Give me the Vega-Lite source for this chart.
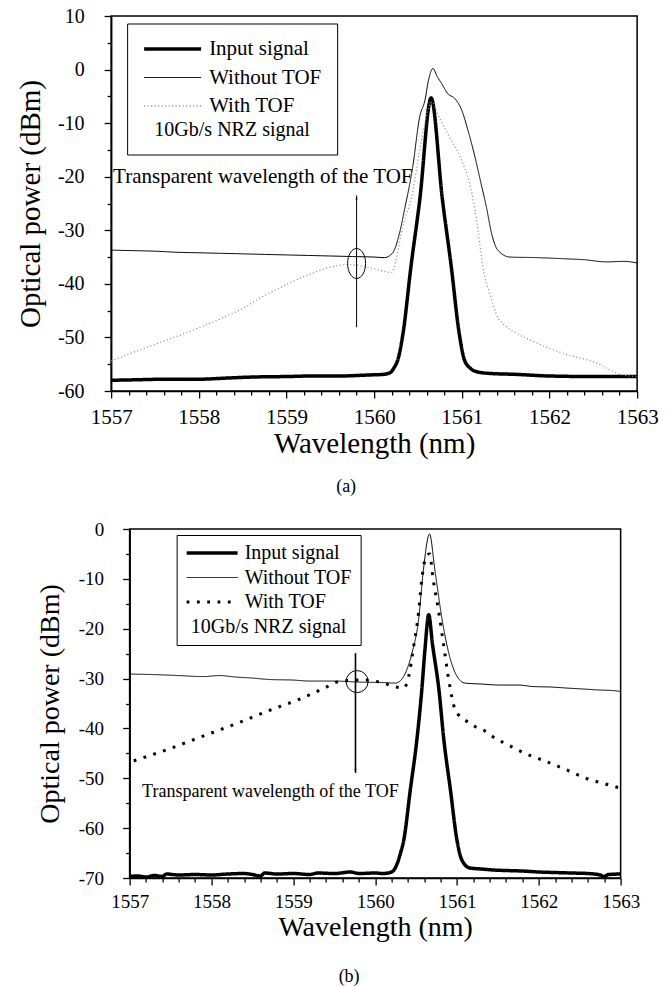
{
  "$schema": "https://vega.github.io/schema/vega-lite/v6.json",
  "background": "white",
  "padding": {"left": 15, "top": 5, "right": 5, "bottom": 0},
  "center": true,
  "spacing": 22,
  "resolve": {
    "scale": {"color": "independent", "strokeWidth": "independent", "strokeDash": "independent", "x": "independent", "y": "independent"},
    "legend": {"color": "independent", "strokeWidth": "independent", "strokeDash": "independent"}
  },
  "config": {
    "font": "Liberation Serif",
    "view": {"stroke": "black", "strokeWidth": 1.5},
    "axis": {
      "labelFont": "Liberation Serif", "titleFont": "Liberation Serif", "titleFontWeight": "normal",
      "labelColor": "black", "titleColor": "black", "domainColor": "black", "domainWidth": 1.6,
      "tickColor": "black", "tickWidth": 1.3, "grid": false, "labelOverlap": false, "labelFlush": false
    },
    "title": {"font": "Liberation Serif", "fontWeight": "normal", "color": "black"}
  },
  "datasets": {
    "a_curves": [
      {"s": "Input signal", "wl": 1557.0, "p": -58.0},
      {"s": "Input signal", "wl": 1557.3, "p": -57.9},
      {"s": "Input signal", "wl": 1557.6, "p": -57.8},
      {"s": "Input signal", "wl": 1558.0, "p": -57.8},
      {"s": "Input signal", "wl": 1558.3, "p": -57.6},
      {"s": "Input signal", "wl": 1558.6, "p": -57.4},
      {"s": "Input signal", "wl": 1559.0, "p": -57.3},
      {"s": "Input signal", "wl": 1559.3, "p": -57.2},
      {"s": "Input signal", "wl": 1559.6, "p": -57.2},
      {"s": "Input signal", "wl": 1559.95, "p": -57.0},
      {"s": "Input signal", "wl": 1560.1, "p": -56.9},
      {"s": "Input signal", "wl": 1560.18, "p": -56.6},
      {"s": "Input signal", "wl": 1560.23, "p": -55.6},
      {"s": "Input signal", "wl": 1560.27, "p": -54.2},
      {"s": "Input signal", "wl": 1560.33, "p": -49.2},
      {"s": "Input signal", "wl": 1560.42, "p": -36.8},
      {"s": "Input signal", "wl": 1560.52, "p": -24.4},
      {"s": "Input signal", "wl": 1560.65, "p": -5.3},
      {"s": "Input signal", "wl": 1560.78, "p": -24.4},
      {"s": "Input signal", "wl": 1560.88, "p": -36.8},
      {"s": "Input signal", "wl": 1560.97, "p": -49.2},
      {"s": "Input signal", "wl": 1561.03, "p": -54.2},
      {"s": "Input signal", "wl": 1561.1, "p": -55.8},
      {"s": "Input signal", "wl": 1561.17, "p": -56.4},
      {"s": "Input signal", "wl": 1561.3, "p": -56.7},
      {"s": "Input signal", "wl": 1561.62, "p": -56.9},
      {"s": "Input signal", "wl": 1562.0, "p": -57.2},
      {"s": "Input signal", "wl": 1562.5, "p": -57.3},
      {"s": "Input signal", "wl": 1563.0, "p": -57.3},

      {"s": "Without TOF", "wl": 1557.0, "p": -33.7},
      {"s": "Without TOF", "wl": 1557.25, "p": -33.8},
      {"s": "Without TOF", "wl": 1557.5, "p": -33.9},
      {"s": "Without TOF", "wl": 1557.75, "p": -34.1},
      {"s": "Without TOF", "wl": 1558.0, "p": -34.2},
      {"s": "Without TOF", "wl": 1558.25, "p": -34.3},
      {"s": "Without TOF", "wl": 1558.5, "p": -34.4},
      {"s": "Without TOF", "wl": 1558.75, "p": -34.5},
      {"s": "Without TOF", "wl": 1559.0, "p": -34.6},
      {"s": "Without TOF", "wl": 1559.25, "p": -34.7},
      {"s": "Without TOF", "wl": 1559.5, "p": -34.8},
      {"s": "Without TOF", "wl": 1559.75, "p": -34.9},
      {"s": "Without TOF", "wl": 1560.0, "p": -35.0},
      {"s": "Without TOF", "wl": 1560.12, "p": -35.1},
      {"s": "Without TOF", "wl": 1560.18, "p": -34.7},
      {"s": "Without TOF", "wl": 1560.23, "p": -33.7},
      {"s": "Without TOF", "wl": 1560.29, "p": -30.5},
      {"s": "Without TOF", "wl": 1560.35, "p": -25.9},
      {"s": "Without TOF", "wl": 1560.44, "p": -18.2},
      {"s": "Without TOF", "wl": 1560.52, "p": -8.8},
      {"s": "Without TOF", "wl": 1560.58, "p": -5.7},
      {"s": "Without TOF", "wl": 1560.62, "p": -2.0},
      {"s": "Without TOF", "wl": 1560.67, "p": 0.2},
      {"s": "Without TOF", "wl": 1560.72, "p": -1.3},
      {"s": "Without TOF", "wl": 1560.77, "p": -2.6},
      {"s": "Without TOF", "wl": 1560.84, "p": -4.5},
      {"s": "Without TOF", "wl": 1560.92, "p": -5.4},
      {"s": "Without TOF", "wl": 1561.0, "p": -7.6},
      {"s": "Without TOF", "wl": 1561.07, "p": -11.3},
      {"s": "Without TOF", "wl": 1561.15, "p": -16.3},
      {"s": "Without TOF", "wl": 1561.22, "p": -21.3},
      {"s": "Without TOF", "wl": 1561.28, "p": -25.6},
      {"s": "Without TOF", "wl": 1561.34, "p": -30.6},
      {"s": "Without TOF", "wl": 1561.41, "p": -33.7},
      {"s": "Without TOF", "wl": 1561.55, "p": -35.0},
      {"s": "Without TOF", "wl": 1561.85, "p": -35.1},
      {"s": "Without TOF", "wl": 1562.15, "p": -35.3},
      {"s": "Without TOF", "wl": 1562.4, "p": -35.5},
      {"s": "Without TOF", "wl": 1562.65, "p": -35.9},
      {"s": "Without TOF", "wl": 1562.85, "p": -35.8},
      {"s": "Without TOF", "wl": 1563.0, "p": -36.1},

      {"s": "With TOF", "wl": 1557.0, "p": -54.4},
      {"s": "With TOF", "wl": 1557.25, "p": -52.8},
      {"s": "With TOF", "wl": 1557.5, "p": -51.3},
      {"s": "With TOF", "wl": 1557.75, "p": -49.8},
      {"s": "With TOF", "wl": 1558.0, "p": -48.2},
      {"s": "With TOF", "wl": 1558.25, "p": -46.5},
      {"s": "With TOF", "wl": 1558.5, "p": -44.6},
      {"s": "With TOF", "wl": 1558.75, "p": -42.2},
      {"s": "With TOF", "wl": 1559.0, "p": -40.1},
      {"s": "With TOF", "wl": 1559.25, "p": -38.3},
      {"s": "With TOF", "wl": 1559.5, "p": -36.9},
      {"s": "With TOF", "wl": 1559.7, "p": -36.4},
      {"s": "With TOF", "wl": 1559.9, "p": -36.8},
      {"s": "With TOF", "wl": 1560.0, "p": -37.2},
      {"s": "With TOF", "wl": 1560.1, "p": -37.6},
      {"s": "With TOF", "wl": 1560.2, "p": -37.9},
      {"s": "With TOF", "wl": 1560.25, "p": -35.6},
      {"s": "With TOF", "wl": 1560.31, "p": -30.6},
      {"s": "With TOF", "wl": 1560.37, "p": -26.9},
      {"s": "With TOF", "wl": 1560.42, "p": -24.4},
      {"s": "With TOF", "wl": 1560.52, "p": -15.1},
      {"s": "With TOF", "wl": 1560.6, "p": -8.5},
      {"s": "With TOF", "wl": 1560.66, "p": -6.0},
      {"s": "With TOF", "wl": 1560.73, "p": -8.5},
      {"s": "With TOF", "wl": 1560.86, "p": -12.6},
      {"s": "With TOF", "wl": 1560.98, "p": -16.3},
      {"s": "With TOF", "wl": 1561.09, "p": -21.3},
      {"s": "With TOF", "wl": 1561.15, "p": -26.2},
      {"s": "With TOF", "wl": 1561.19, "p": -30.6},
      {"s": "With TOF", "wl": 1561.24, "p": -36.8},
      {"s": "With TOF", "wl": 1561.32, "p": -41.8},
      {"s": "With TOF", "wl": 1561.39, "p": -45.5},
      {"s": "With TOF", "wl": 1561.51, "p": -48.0},
      {"s": "With TOF", "wl": 1561.62, "p": -49.2},
      {"s": "With TOF", "wl": 1561.78, "p": -50.5},
      {"s": "With TOF", "wl": 1562.16, "p": -53.0},
      {"s": "With TOF", "wl": 1562.54, "p": -54.8},
      {"s": "With TOF", "wl": 1562.73, "p": -56.4},
      {"s": "With TOF", "wl": 1562.84, "p": -57.0},
      {"s": "With TOF", "wl": 1563.0, "p": -57.3}
    ],
    "b_curves": [
      {"s": "Input signal", "wl": 1557.0, "p": -69.7},
      {"s": "Input signal", "wl": 1557.1, "p": -69.6},
      {"s": "Input signal", "wl": 1557.2, "p": -69.8},
      {"s": "Input signal", "wl": 1557.3, "p": -69.5},
      {"s": "Input signal", "wl": 1557.4, "p": -69.7},
      {"s": "Input signal", "wl": 1557.45, "p": -69.2},
      {"s": "Input signal", "wl": 1557.6, "p": -69.4},
      {"s": "Input signal", "wl": 1557.8, "p": -69.3},
      {"s": "Input signal", "wl": 1558.0, "p": -69.4},
      {"s": "Input signal", "wl": 1558.2, "p": -69.2},
      {"s": "Input signal", "wl": 1558.4, "p": -69.1},
      {"s": "Input signal", "wl": 1558.5, "p": -69.3},
      {"s": "Input signal", "wl": 1558.6, "p": -69.6},
      {"s": "Input signal", "wl": 1558.65, "p": -69.0},
      {"s": "Input signal", "wl": 1558.8, "p": -69.2},
      {"s": "Input signal", "wl": 1559.0, "p": -69.1},
      {"s": "Input signal", "wl": 1559.2, "p": -69.3},
      {"s": "Input signal", "wl": 1559.3, "p": -69.0},
      {"s": "Input signal", "wl": 1559.5, "p": -69.1},
      {"s": "Input signal", "wl": 1559.7, "p": -68.8},
      {"s": "Input signal", "wl": 1559.8, "p": -69.1},
      {"s": "Input signal", "wl": 1560.0, "p": -69.0},
      {"s": "Input signal", "wl": 1560.1, "p": -69.1},
      {"s": "Input signal", "wl": 1560.2, "p": -68.8},
      {"s": "Input signal", "wl": 1560.27, "p": -67.1},
      {"s": "Input signal", "wl": 1560.31, "p": -65.0},
      {"s": "Input signal", "wl": 1560.35, "p": -62.4},
      {"s": "Input signal", "wl": 1560.43, "p": -52.3},
      {"s": "Input signal", "wl": 1560.51, "p": -42.3},
      {"s": "Input signal", "wl": 1560.57, "p": -32.3},
      {"s": "Input signal", "wl": 1560.61, "p": -24.0},
      {"s": "Input signal", "wl": 1560.655, "p": -17.2},
      {"s": "Input signal", "wl": 1560.7, "p": -23.0},
      {"s": "Input signal", "wl": 1560.78, "p": -32.3},
      {"s": "Input signal", "wl": 1560.84, "p": -42.3},
      {"s": "Input signal", "wl": 1560.92, "p": -52.3},
      {"s": "Input signal", "wl": 1561.0, "p": -62.4},
      {"s": "Input signal", "wl": 1561.06, "p": -66.4},
      {"s": "Input signal", "wl": 1561.16, "p": -68.0},
      {"s": "Input signal", "wl": 1561.3, "p": -68.2},
      {"s": "Input signal", "wl": 1561.45, "p": -68.4},
      {"s": "Input signal", "wl": 1561.6, "p": -68.5},
      {"s": "Input signal", "wl": 1561.8, "p": -68.6},
      {"s": "Input signal", "wl": 1562.0, "p": -68.8},
      {"s": "Input signal", "wl": 1562.2, "p": -68.9},
      {"s": "Input signal", "wl": 1562.4, "p": -69.0},
      {"s": "Input signal", "wl": 1562.6, "p": -69.1},
      {"s": "Input signal", "wl": 1562.75, "p": -69.4},
      {"s": "Input signal", "wl": 1562.8, "p": -69.7},
      {"s": "Input signal", "wl": 1562.85, "p": -69.3},
      {"s": "Input signal", "wl": 1563.0, "p": -69.2},

      {"s": "Without TOF", "wl": 1557.0, "p": -29.1},
      {"s": "Without TOF", "wl": 1557.3, "p": -29.2},
      {"s": "Without TOF", "wl": 1557.6, "p": -29.4},
      {"s": "Without TOF", "wl": 1557.9, "p": -29.6},
      {"s": "Without TOF", "wl": 1558.1, "p": -29.4},
      {"s": "Without TOF", "wl": 1558.3, "p": -29.7},
      {"s": "Without TOF", "wl": 1558.5, "p": -29.9},
      {"s": "Without TOF", "wl": 1558.72, "p": -30.2},
      {"s": "Without TOF", "wl": 1559.0, "p": -30.3},
      {"s": "Without TOF", "wl": 1559.2, "p": -30.5},
      {"s": "Without TOF", "wl": 1559.5, "p": -30.5},
      {"s": "Without TOF", "wl": 1559.8, "p": -30.7},
      {"s": "Without TOF", "wl": 1560.1, "p": -30.8},
      {"s": "Without TOF", "wl": 1560.25, "p": -30.9},
      {"s": "Without TOF", "wl": 1560.31, "p": -30.4},
      {"s": "Without TOF", "wl": 1560.37, "p": -28.9},
      {"s": "Without TOF", "wl": 1560.45, "p": -24.9},
      {"s": "Without TOF", "wl": 1560.53, "p": -18.3},
      {"s": "Without TOF", "wl": 1560.59, "p": -8.2},
      {"s": "Without TOF", "wl": 1560.665, "p": -1.0},
      {"s": "Without TOF", "wl": 1560.73, "p": -8.2},
      {"s": "Without TOF", "wl": 1560.82, "p": -18.3},
      {"s": "Without TOF", "wl": 1560.9, "p": -24.9},
      {"s": "Without TOF", "wl": 1560.98, "p": -28.9},
      {"s": "Without TOF", "wl": 1561.04, "p": -30.4},
      {"s": "Without TOF", "wl": 1561.1, "p": -30.9},
      {"s": "Without TOF", "wl": 1561.3, "p": -31.1},
      {"s": "Without TOF", "wl": 1561.53, "p": -31.3},
      {"s": "Without TOF", "wl": 1561.75, "p": -31.3},
      {"s": "Without TOF", "wl": 1561.93, "p": -31.6},
      {"s": "Without TOF", "wl": 1562.15, "p": -31.7},
      {"s": "Without TOF", "wl": 1562.34, "p": -31.9},
      {"s": "Without TOF", "wl": 1562.55, "p": -32.1},
      {"s": "Without TOF", "wl": 1562.75, "p": -32.3},
      {"s": "Without TOF", "wl": 1562.9, "p": -32.4},
      {"s": "Without TOF", "wl": 1563.0, "p": -32.6},

      {"s": "With TOF", "wl": 1557.05, "p": -46.5},
      {"s": "With TOF", "wl": 1557.5, "p": -44.0},
      {"s": "With TOF", "wl": 1557.87, "p": -41.7},
      {"s": "With TOF", "wl": 1558.31, "p": -39.0},
      {"s": "With TOF", "wl": 1558.72, "p": -36.3},
      {"s": "With TOF", "wl": 1559.05, "p": -34.3},
      {"s": "With TOF", "wl": 1559.37, "p": -32.0},
      {"s": "With TOF", "wl": 1559.58, "p": -30.5},
      {"s": "With TOF", "wl": 1559.86, "p": -30.3},
      {"s": "With TOF", "wl": 1560.1, "p": -30.9},
      {"s": "With TOF", "wl": 1560.23, "p": -31.6},
      {"s": "With TOF", "wl": 1560.35, "p": -31.9},
      {"s": "With TOF", "wl": 1560.41, "p": -29.6},
      {"s": "With TOF", "wl": 1560.47, "p": -23.6},
      {"s": "With TOF", "wl": 1560.53, "p": -16.9},
      {"s": "With TOF", "wl": 1560.57, "p": -10.2},
      {"s": "With TOF", "wl": 1560.61, "p": -6.2},
      {"s": "With TOF", "wl": 1560.665, "p": -5.0},
      {"s": "With TOF", "wl": 1560.71, "p": -10.2},
      {"s": "With TOF", "wl": 1560.78, "p": -16.9},
      {"s": "With TOF", "wl": 1560.84, "p": -23.6},
      {"s": "With TOF", "wl": 1560.9, "p": -30.3},
      {"s": "With TOF", "wl": 1560.98, "p": -36.3},
      {"s": "With TOF", "wl": 1561.1, "p": -38.3},
      {"s": "With TOF", "wl": 1561.22, "p": -39.6},
      {"s": "With TOF", "wl": 1561.35, "p": -40.6},
      {"s": "With TOF", "wl": 1561.47, "p": -42.0},
      {"s": "With TOF", "wl": 1561.59, "p": -43.0},
      {"s": "With TOF", "wl": 1561.83, "p": -45.0},
      {"s": "With TOF", "wl": 1562.1, "p": -46.7},
      {"s": "With TOF", "wl": 1562.34, "p": -48.3},
      {"s": "With TOF", "wl": 1562.58, "p": -50.0},
      {"s": "With TOF", "wl": 1562.85, "p": -51.3},
      {"s": "With TOF", "wl": 1563.0, "p": -52.0}
    ],
    "a_arrow": [{"wl": 1559.8, "p": -23.5, "p2": -48.1}],
    "a_ring": [{"wl": 1559.8, "p": -36.2}],
    "a_note": [{"wl": 1558.73, "p": -20.1, "label": "Transparent wavelength of the TOF"}],
    "b_arrow": [{"wl": 1559.76, "p": -24.9, "p2": -48.9}],
    "b_ring": [{"wl": 1559.78, "p": -30.6}],
    "b_note": [{"wl": 1558.72, "p": -52.7, "label": "Transparent wavelength of the TOF"}]
  },
  "vconcat": [
    {
      "width": 526,
      "height": 375,
      "title": {"text": "(a)", "orient": "bottom", "anchor": "middle", "frame": "group", "dx": -28, "offset": 20, "fontSize": 18, "font": "Liberation Serif", "fontWeight": "normal", "color": "black"},
      "resolve": {"axis": {"x": "independent", "y": "independent"}},
      "layer": [
        {
          "data": {"name": "a_curves"},
          "mark": {"type": "line", "interpolate": "monotone"},
          "encoding": {
            "x": {
              "field": "wl", "type": "quantitative",
              "scale": {"domain": [1557, 1563], "nice": false, "zero": false},
              "axis": {
                "orient": "bottom", "title": "Wavelength (nm)", "titleFontSize": 29, "titlePadding": 2,
                "values": [1557, 1558, 1559, 1560, 1561, 1562, 1563], "format": "d",
                "tickSize": 7, "labelFontSize": 21, "labelPadding": 8, "labelFlush": false, "labelOverlap": false
              }
            },
            "y": {
              "field": "p", "type": "quantitative",
              "scale": {"domain": [-60, 10], "nice": false, "zero": false},
              "axis": {
                "orient": "left", "title": "Optical power (dBm)", "titleFontSize": 29, "titlePadding": 12,
                "values": [-60, -50, -40, -30, -20, -10, 0, 10],
                "labelExpr": "'' + datum.value",
                "tickSize": 7, "labelFontSize": 20, "labelPadding": 20, "labelOverlap": false
              }
            },
            "strokeWidth": {
              "field": "s", "type": "ordinal",
              "scale": {"type": "ordinal", "domain": ["Input signal", "Without TOF", "With TOF"], "range": [3.5, 1, 1.3]},
              "legend": {"orient": "none", "legendX": 16, "legendY": 7.5, "title": "10Gb/s NRZ signal", "titleOrient": "bottom", "titleAnchor": "middle", "titleFont": "Liberation Serif", "titleFontSize": 20, "titleFontWeight": "normal", "titleColor": "black", "titlePadding": 3, "labelFont": "Liberation Serif", "labelFontSize": 21, "labelColor": "black", "labelOffset": 6, "symbolType": "stroke", "symbolSize": 3249, "clipHeight": 21, "rowPadding": 6.5, "padding": 15, "strokeColor": "black", "fillColor": "white", "labelLimit": 400, "titleLimit": 400}
            },
            "strokeDash": {
              "field": "s", "type": "ordinal",
              "scale": {"type": "ordinal", "domain": ["Input signal", "Without TOF", "With TOF"], "range": [[1, 0], [1, 0], [1, 2.5]]},
              "legend": {"orient": "none", "legendX": 16, "legendY": 7.5, "title": "10Gb/s NRZ signal", "titleOrient": "bottom", "titleAnchor": "middle", "titleFont": "Liberation Serif", "titleFontSize": 20, "titleFontWeight": "normal", "titleColor": "black", "titlePadding": 3, "labelFont": "Liberation Serif", "labelFontSize": 21, "labelColor": "black", "labelOffset": 6, "symbolType": "stroke", "symbolSize": 3249, "clipHeight": 21, "rowPadding": 6.5, "padding": 15, "strokeColor": "black", "fillColor": "white", "labelLimit": 400, "titleLimit": 400}
            },
            "color": {
              "field": "s", "type": "ordinal",
              "scale": {"type": "ordinal", "domain": ["Input signal", "Without TOF", "With TOF"], "range": ["#000000", "#000000", "#8c8c8c"]},
              "legend": {"orient": "none", "legendX": 16, "legendY": 7.5, "title": "10Gb/s NRZ signal", "titleOrient": "bottom", "titleAnchor": "middle", "titleFont": "Liberation Serif", "titleFontSize": 20, "titleFontWeight": "normal", "titleColor": "black", "titlePadding": 3, "labelFont": "Liberation Serif", "labelFontSize": 21, "labelColor": "black", "labelOffset": 6, "symbolType": "stroke", "symbolSize": 3249, "clipHeight": 21, "rowPadding": 6.5, "padding": 15, "strokeColor": "black", "fillColor": "white", "labelLimit": 400, "titleLimit": 400}
            }
          }
        },
        {
          "data": {"name": "a_arrow"},
          "mark": {"type": "rule", "color": "black", "strokeWidth": 1},
          "encoding": {
            "x": {
              "field": "wl", "type": "quantitative",
              "axis": {"orient": "bottom", "title": null, "labels": false, "domain": false, "tickSize": 4,
                "values": [1557.2,1557.4,1557.6,1557.8,1558.2,1558.4,1558.6,1558.8,1559.2,1559.4,1559.6,1559.8,1560.2,1560.4,1560.6,1560.8,1561.2,1561.4,1561.6,1561.8,1562.2,1562.4,1562.6,1562.8]}
            },
            "y": {
              "field": "p", "type": "quantitative",
              "axis": {"orient": "left", "title": null, "labels": false, "domain": false, "tickSize": 4,
                "values": [-55, -45, -35, -25, -15, -5, 5]}
            },
            "y2": {"field": "p2"}
          }
        },
        {
          "data": {"name": "a_arrow"},
          "mark": {"type": "point", "shape": "M 0 0 L 0.5 2 L -0.5 2 Z", "size": 16, "filled": true, "color": "black", "opacity": 1},
          "encoding": {
            "x": {"field": "wl", "type": "quantitative", "axis": null},
            "y": {"field": "p", "type": "quantitative", "axis": null}
          }
        },
        {
          "data": {"name": "a_ring"},
          "mark": {"type": "point", "shape": "M 0 -1 C 0.3314 -1 0.6 -0.5523 0.6 0 C 0.6 0.5523 0.3314 1 0 1 C -0.3314 1 -0.6 0.5523 -0.6 0 C -0.6 -0.5523 -0.3314 -1 0 -1 Z", "size": 900, "filled": false, "color": "black", "strokeWidth": 1, "opacity": 1},
          "encoding": {
            "x": {"field": "wl", "type": "quantitative", "axis": null},
            "y": {"field": "p", "type": "quantitative", "axis": null}
          }
        },
        {
          "data": {"name": "a_note"},
          "mark": {"type": "text", "font": "Liberation Serif", "fontSize": 21, "color": "black", "align": "center", "baseline": "middle"},
          "encoding": {
            "x": {"field": "wl", "type": "quantitative", "axis": null},
            "y": {"field": "p", "type": "quantitative", "axis": null},
            "text": {"field": "label"}
          }
        }
      ]
    },
    {
      "width": 491,
      "height": 349,
      "title": {"text": "(b)", "orient": "bottom", "anchor": "middle", "frame": "group", "dx": -26, "offset": 27, "fontSize": 18, "font": "Liberation Serif", "fontWeight": "normal", "color": "black"},
      "resolve": {"axis": {"x": "independent", "y": "independent"}},
      "layer": [
        {
          "data": {"name": "b_curves"},
          "mark": {"type": "line", "interpolate": "monotone"},
          "encoding": {
            "x": {
              "field": "wl", "type": "quantitative",
              "scale": {"domain": [1557, 1563], "nice": false, "zero": false},
              "axis": {
                "orient": "bottom", "title": "Wavelength (nm)", "titleFontSize": 28, "titlePadding": 2,
                "values": [1557, 1558, 1559, 1560, 1561, 1562, 1563], "format": "d",
                "tickSize": 7, "labelFontSize": 19, "labelPadding": 7, "labelFlush": false, "labelOverlap": false
              }
            },
            "y": {
              "field": "p", "type": "quantitative",
              "scale": {"domain": [-70, 0], "nice": false, "zero": false},
              "axis": {
                "orient": "left", "title": "Optical power (dBm)", "titleFontSize": 28, "titlePadding": 14,
                "values": [-70, -60, -50, -40, -30, -20, -10, 0],
                "labelExpr": "'' + datum.value",
                "tickSize": 7, "labelFontSize": 19, "labelPadding": 19, "labelOverlap": false
              }
            },
            "strokeWidth": {
              "field": "s", "type": "ordinal",
              "scale": {"type": "ordinal", "domain": ["Input signal", "Without TOF", "With TOF"], "range": [3.5, 1, 3]},
              "legend": {"orient": "none", "legendX": 47, "legendY": 6, "title": "10Gb/s NRZ signal", "titleOrient": "bottom", "titleAnchor": "middle", "titleFont": "Liberation Serif", "titleFontSize": 20, "titleFontWeight": "normal", "titleColor": "black", "titlePadding": 5, "labelFont": "Liberation Serif", "labelFontSize": 20, "labelColor": "black", "labelOffset": 5, "symbolType": "stroke", "symbolSize": 2601, "clipHeight": 20, "rowPadding": 4.5, "padding": 8, "strokeColor": "black", "fillColor": "white", "labelLimit": 400, "titleLimit": 400}
            },
            "strokeDash": {
              "field": "s", "type": "ordinal",
              "scale": {"type": "ordinal", "domain": ["Input signal", "Without TOF", "With TOF"], "range": [[1, 0], [1, 0], [2.8, 7.5]]},
              "legend": {"orient": "none", "legendX": 47, "legendY": 6, "title": "10Gb/s NRZ signal", "titleOrient": "bottom", "titleAnchor": "middle", "titleFont": "Liberation Serif", "titleFontSize": 20, "titleFontWeight": "normal", "titleColor": "black", "titlePadding": 5, "labelFont": "Liberation Serif", "labelFontSize": 20, "labelColor": "black", "labelOffset": 5, "symbolType": "stroke", "symbolSize": 2601, "clipHeight": 20, "rowPadding": 4.5, "padding": 8, "strokeColor": "black", "fillColor": "white", "labelLimit": 400, "titleLimit": 400}
            },
            "color": {
              "field": "s", "type": "ordinal",
              "scale": {"type": "ordinal", "domain": ["Input signal", "Without TOF", "With TOF"], "range": ["#000000", "#000000", "#000000"]},
              "legend": {"orient": "none", "legendX": 47, "legendY": 6, "title": "10Gb/s NRZ signal", "titleOrient": "bottom", "titleAnchor": "middle", "titleFont": "Liberation Serif", "titleFontSize": 20, "titleFontWeight": "normal", "titleColor": "black", "titlePadding": 5, "labelFont": "Liberation Serif", "labelFontSize": 20, "labelColor": "black", "labelOffset": 5, "symbolType": "stroke", "symbolSize": 2601, "clipHeight": 20, "rowPadding": 4.5, "padding": 8, "strokeColor": "black", "fillColor": "white", "labelLimit": 400, "titleLimit": 400}
            }
          }
        },
        {
          "data": {"name": "b_arrow"},
          "mark": {"type": "rule", "color": "black", "strokeWidth": 1.6},
          "encoding": {
            "x": {
              "field": "wl", "type": "quantitative",
              "axis": {"orient": "bottom", "title": null, "labels": false, "domain": false, "tickSize": 4,
                "values": [1557.2,1557.4,1557.6,1557.8,1558.2,1558.4,1558.6,1558.8,1559.2,1559.4,1559.6,1559.8,1560.2,1560.4,1560.6,1560.8,1561.2,1561.4,1561.6,1561.8,1562.2,1562.4,1562.6,1562.8]}
            },
            "y": {
              "field": "p", "type": "quantitative",
              "axis": {"orient": "left", "title": null, "labels": false, "domain": false, "tickSize": 4,
                "values": [-65, -55, -45, -35, -25, -15, -5]}
            },
            "y2": {"field": "p2"}
          }
        },
        {
          "data": {"name": "b_arrow"},
          "mark": {"type": "point", "shape": "M 0 0 L 0.5 -2 L -0.5 -2 Z", "size": 16, "filled": true, "color": "black", "opacity": 1},
          "encoding": {
            "x": {"field": "wl", "type": "quantitative", "axis": null},
            "y": {"field": "p2", "type": "quantitative", "axis": null}
          }
        },
        {
          "data": {"name": "b_ring"},
          "mark": {"type": "point", "shape": "circle", "size": 484, "filled": false, "color": "black", "strokeWidth": 1, "opacity": 1},
          "encoding": {
            "x": {"field": "wl", "type": "quantitative", "axis": null},
            "y": {"field": "p", "type": "quantitative", "axis": null}
          }
        },
        {
          "data": {"name": "b_note"},
          "mark": {"type": "text", "font": "Liberation Serif", "fontSize": 18, "color": "black", "align": "center", "baseline": "middle"},
          "encoding": {
            "x": {"field": "wl", "type": "quantitative", "axis": null},
            "y": {"field": "p", "type": "quantitative", "axis": null},
            "text": {"field": "label"}
          }
        }
      ]
    }
  ]
}
